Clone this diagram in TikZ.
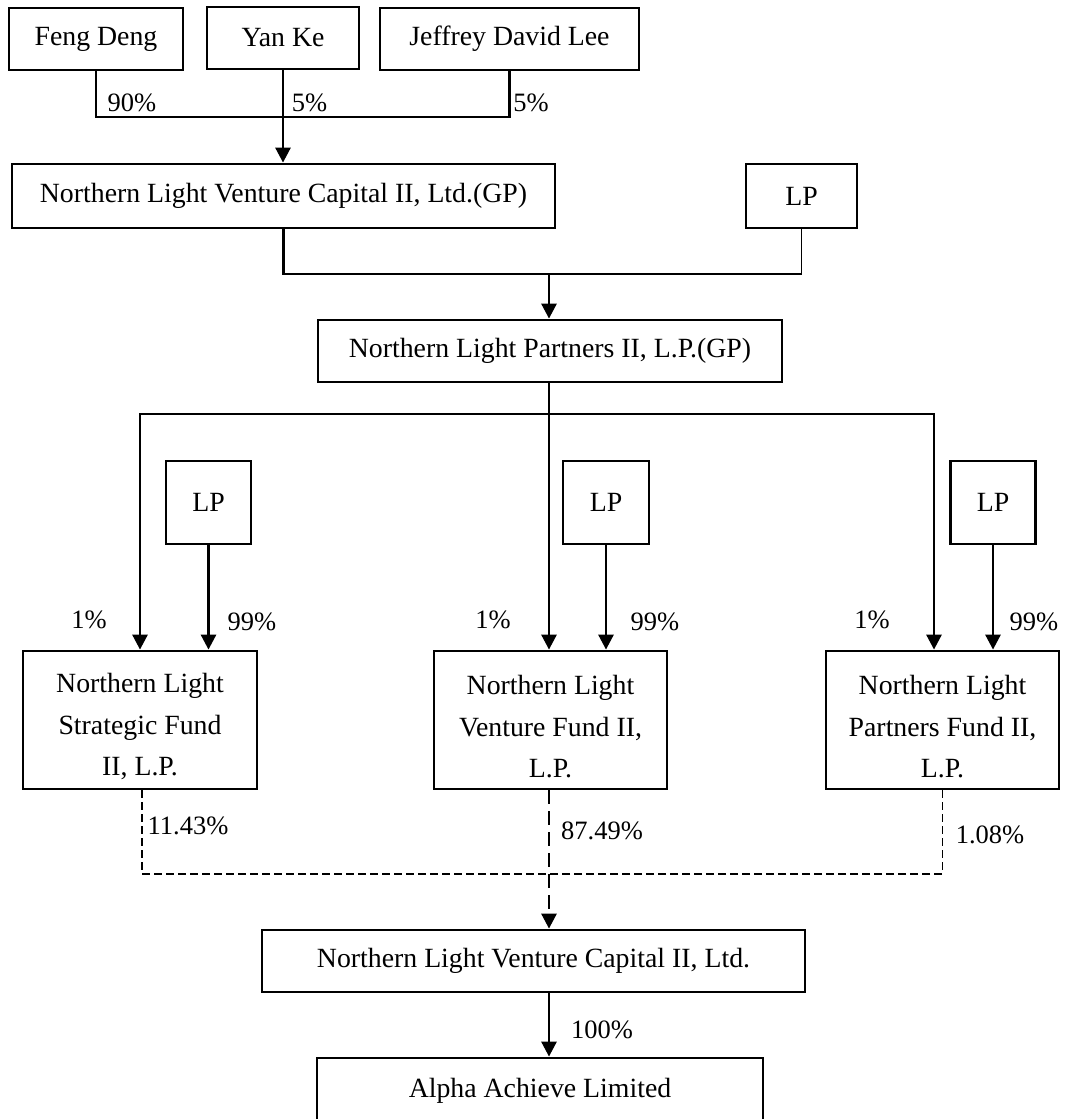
\documentclass[tikz,border=0pt]{standalone}
\usepackage{fontspec}
\setmainfont{Liberation Serif}
\usetikzlibrary{arrows.meta}
\newcommand{\topgap}{\rule{0pt}{33pt}}
\begin{document}
\begin{tikzpicture}[x=1pt,y=-1pt,
  box/.style={draw, line width=2.8pt, inner sep=0pt, align=center,
    font=\fontsize{27.8}{41.5}\selectfont},
  pct/.style={inner sep=0pt, font=\fontsize{26.5}{30}\selectfont},
  thickln/.style={line width=2.8pt},
  thinln/.style={line width=1.4pt},
  arr/.style={-{Triangle[width=15pt,length=15pt]}},
  dthin/.style={line width=1.4pt, dash pattern=on 8pt off 4pt},
  dthick/.style={line width=2.8pt, dash pattern=on 14pt off 7pt}]
\useasboundingbox (0,0) rectangle (1066,1119);
\clip (0,0) rectangle (1066,1119);
% top owners
\node[box, minimum width=174pt, minimum height=62pt] (feng) at (96,39) {Feng Deng};
\node[box, minimum width=152pt, minimum height=62pt] (yan) at (283,38) {Yan Ke};
\node[box, minimum width=259pt, minimum height=62pt] (jeff) at (509.5,39) {Jeffrey David Lee};
% GP level
\node[box, minimum width=543pt, minimum height=64pt] (gp1) at (283.5,196) {Northern Light Venture Capital II, Ltd.(GP)};
\node[box, minimum width=111pt, minimum height=64pt] (lp0) at (801.5,196) {LP};
\node[box, minimum width=464pt, minimum height=62pt] (gp2) at (550,351) {Northern Light Partners II, L.P.(GP)};
% LPs of funds
\node[box, minimum width=85pt, minimum height=83pt] (lpa) at (208.5,502.5) {LP};
\node[box, minimum width=86pt, minimum height=83pt] (lpb) at (606,502.5) {LP};
\node[box, minimum width=85pt, minimum height=83pt] (lpc) at (993,502.5) {LP};
% funds
\node[box, minimum width=234pt, minimum height=138pt] (f1) at (140,720) {\topgap Northern Light\\Strategic Fund\\II, L.P.};
\node[box, minimum width=233pt, minimum height=138pt] (f2) at (550.5,720) {\topgap Northern Light\\Venture Fund II,\\L.P.};
\node[box, minimum width=233pt, minimum height=138pt] (f3) at (942.5,720) {\topgap Northern Light\\Partners Fund II,\\L.P.};
% bottom
\node[box, minimum width=543pt, minimum height=62pt] (nlvc) at (533.5,961) {Northern Light Venture Capital II, Ltd.};
\node[box, minimum width=446pt, minimum height=66pt] (alpha) at (540,1091) {Alpha Achieve Limited};
% junctions
\coordinate (j1) at (283,117);
\coordinate (j2) at (549,274);
\coordinate (j3) at (549,414);
\coordinate (j4) at (549,874);
% top connectors
\draw[thickln] (feng.south) |- (j1);
\draw[thickln] (jeff.south) |- (j1);
\draw[thinln] (yan.south) -- (j1);
\draw[thickln, arr] (j1) -- (j1 |- gp1.north);
\draw[thickln] (gp1.south) |- (j2);
\draw[thinln] (lp0.south) |- (j2);
\draw[thickln, arr] (j2) -- (j2 |- gp2.north);
% to funds
\draw[thickln] (gp2.south -| j3) -- (j3);
\draw[thickln, arr] (j3) -- (j3 |- f2.north);
\draw[thickln, arr] (j3) -| (f1.north);
\coordinate (f3in) at ([xshift=-8.5pt]f3.north);
\draw[thickln, arr] (j3) -| (f3in);
\draw[thickln, arr] (lpa.south) -- (lpa.south |- f1.north);
\draw[thickln, arr] (lpb.south) -- (lpb.south |- f2.north);
\draw[thickln, arr] (lpc.south) -- (lpc.south |- f3.north);
% dashed
\draw[dthin] ([xshift=2pt]f1.south) |- (j4);
\draw[dthin] (f3.south) |- (j4);
\draw[dthick] (f2.south -| j4) -- (j4);
\draw[dthick, arr] (j4) -- (j4 |- nlvc.north);
\draw[thickln, arr] (nlvc.south -| j4) -- (j4 |- alpha.north);
% labels
\node[pct] (l90) at (132,103) {90\%};
\node[pct] (l5a) at (309.5,103) {5\%};
\node[pct] (l5b) at (531,103) {5\%};
\node[pct] (l1a) at (89,620) {1\%};
\node[pct] (l99a) at (252,622) {99\%};
\node[pct] (l1b) at (493,620) {1\%};
\node[pct] (l99b) at (655,622) {99\%};
\node[pct] (l1c) at (872,620) {1\%};
\node[pct] (l99c) at (1034,622) {99\%};
\node[pct] (l1143) at (188,826) {11.43\%};
\node[pct] (l8749) at (602,831) {87.49\%};
\node[pct] (l108) at (990,835) {1.08\%};
\node[pct] (l100) at (602,1030) {100\%};
\end{tikzpicture}
\end{document}
